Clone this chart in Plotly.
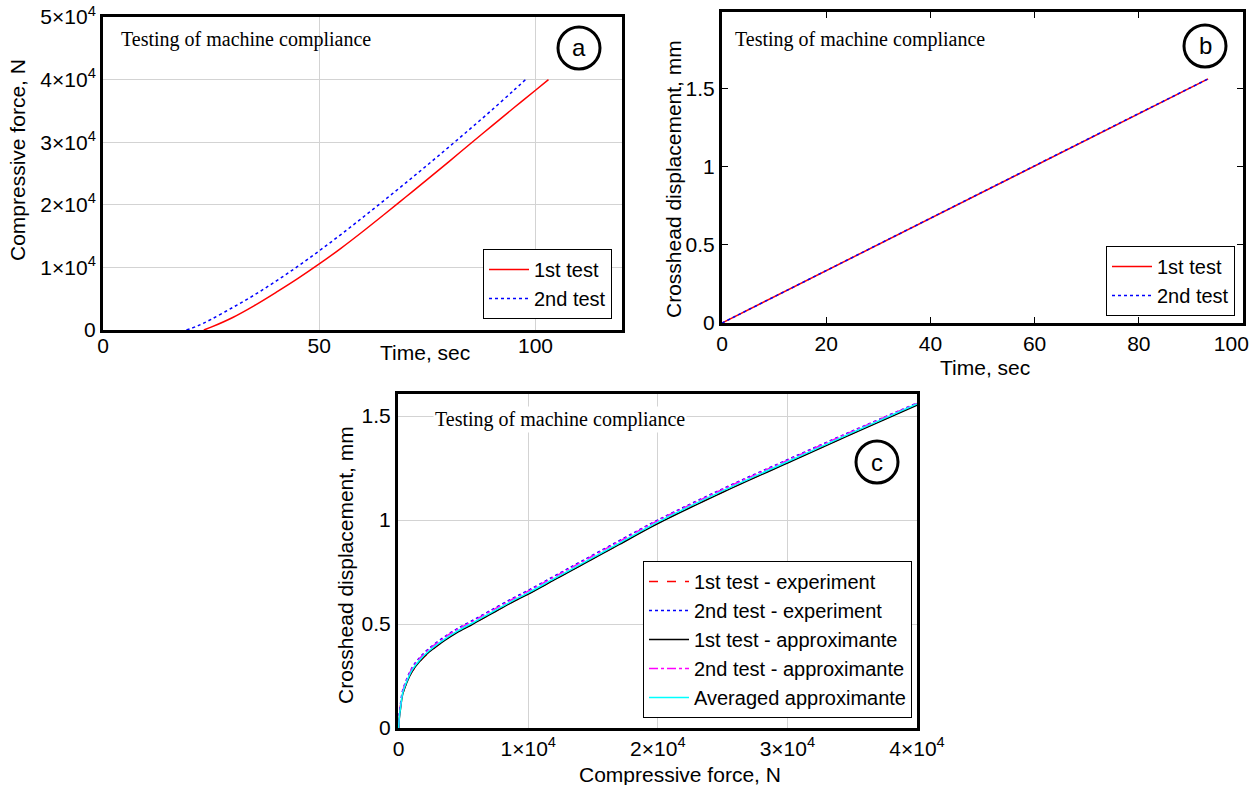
import plotly.graph_objects as go

W, H = 1251, 785
def px(x): return x / W
def py(y): return 1 - y / H

SANS = "Liberation Sans, Arial, sans-serif"
SERIF = "Liberation Serif, Times New Roman, serif"

# ---------------- data ----------------
# Panel (a): compressive force vs time
a_time_1 = [23.3, 25, 30, 35, 40, 45, 50, 55, 60, 65, 70, 75, 80, 85, 90, 95, 100, 103]
a_force_1 = [0, 450, 2000, 3900, 6000, 8200, 10550, 13050, 15700, 18450, 21250, 24050,
             26900, 29800, 32650, 35500, 38300, 40000]
a_time_2 = [19.3, 22, 25, 30, 35, 40, 45, 50, 55, 60, 65, 70, 75, 80, 85, 90, 95, 97.7]
a_force_2 = [0, 700, 1700, 3600, 5600, 7800, 10150, 12650, 15250, 17950, 20700, 23500,
             26350, 29250, 32200, 35200, 38300, 40000]

# Panel (b): crosshead displacement vs time
b_time = [0, 20, 40, 60, 80, 93.3]
b_disp_1 = [0, 0.335, 0.67, 1.005, 1.34, 1.562]
b_disp_2 = [0, 0.336, 0.671, 1.006, 1.341, 1.562]

# Panel (c): crosshead displacement vs compressive force
c_force = [0, 50, 150, 300, 600, 1050, 1600, 2330, 3500, 4500, 5700, 7000, 8750, 10000,
           12000, 14000, 17000, 20000, 25000, 30000, 35000, 40000]
c_exp_1 = [0, 0.06, 0.11, 0.16, 0.215, 0.272, 0.318, 0.362, 0.42, 0.46, 0.50, 0.545, 0.605,
           0.645, 0.713, 0.781, 0.883, 0.985, 1.135, 1.276, 1.416, 1.555]
c_exp_2 = [0, 0.07, 0.12, 0.178, 0.232, 0.292, 0.337, 0.382, 0.437, 0.477, 0.517, 0.562,
           0.622, 0.662, 0.73, 0.798, 0.9, 1.0, 1.15, 1.29, 1.428, 1.562]
c_apx_1 = [0, 0.045, 0.095, 0.16, 0.214, 0.274, 0.319, 0.364, 0.419, 0.459, 0.499, 0.544,
           0.604, 0.644, 0.712, 0.78, 0.882, 0.983, 1.133, 1.274, 1.414, 1.552]
c_apx_2 = [0, 0.058, 0.108, 0.173, 0.228, 0.288, 0.333, 0.378, 0.433, 0.473, 0.513, 0.558,
           0.618, 0.658, 0.726, 0.794, 0.896, 0.997, 1.147, 1.287, 1.426, 1.561]
c_avg = [0, 0.05, 0.10, 0.165, 0.22, 0.28, 0.325, 0.37, 0.425, 0.465, 0.505, 0.55, 0.61,
         0.65, 0.718, 0.786, 0.888, 0.99, 1.14, 1.28, 1.42, 1.558]

a_xticks = [0, 50, 100]
a_xtext = ["0", "50", "100"]
a_yticks = [0, 10000, 20000, 30000, 40000, 50000]
a_ytext = ["0", "1×10<sup>4</sup>", "2×10<sup>4</sup>", "3×10<sup>4</sup>",
           "4×10<sup>4</sup>", "5×10<sup>4</sup>"]
b_xticks = [0, 20, 40, 60, 80, 100]
b_xtext = ["0", "20", "40", "60", "80", "100\u00a0\u00a0\u00a0\u00a0"]
b_yticks = [0, 0.5, 1, 1.5]
b_ytext = ["0", "0.5", "1", "1.5"]
c_xticks = [0, 10000, 20000, 30000, 40000]
c_xtext = ["0", "1×10<sup>4</sup>", "2×10<sup>4</sup>", "3×10<sup>4</sup>", "4×10<sup>4</sup>"]
c_yticks = [0, 0.5, 1, 1.5]
c_ytext = ["0", "0.5", "1", "1.5"]

TITLE = "Testing of machine compliance"

fig = go.Figure()

# Panel a traces
fig.add_trace(go.Scatter(x=a_time_1, y=a_force_1, mode="lines", name="1st test",
                         line=dict(color="#ff0000", width=1.5, shape="spline"),
                         xaxis="x", yaxis="y", legend="legend"))
fig.add_trace(go.Scatter(x=a_time_2, y=a_force_2, mode="lines", name="2nd test",
                         line=dict(color="#0000ff", width=1.5, dash="dot", shape="spline"),
                         xaxis="x", yaxis="y", legend="legend"))
# Panel b traces
fig.add_trace(go.Scatter(x=b_time, y=b_disp_1, mode="lines", name="1st test",
                         line=dict(color="#ff0000", width=1.5),
                         xaxis="x2", yaxis="y2", legend="legend2"))
fig.add_trace(go.Scatter(x=b_time, y=b_disp_2, mode="lines", name="2nd test",
                         line=dict(color="#0000ff", width=1.5, dash="dot"),
                         xaxis="x2", yaxis="y2", legend="legend2"))
# Panel c traces
c_series = [
    ("1st test - experiment", c_exp_1, "#ff0000", "dash"),
    ("2nd test - experiment", c_exp_2, "#0000ff", "dot"),
    ("1st test - approximante", c_apx_1, "#000000", "solid"),
    ("2nd test - approximante", c_apx_2, "#ff00ff", "dashdot"),
    ("Averaged approximante", c_avg, "#00ffff", "solid"),
]
for name, ys, col, dash in c_series:
    fig.add_trace(go.Scatter(x=c_force, y=ys, mode="lines", name=name,
                             line=dict(color=col, width=1.5, dash=dash, shape="spline"),
                             xaxis="x3", yaxis="y3", legend="legend3"))

grid = "#d3d3d3"
tickfont = dict(family=SANS, size=21, color="black")
frame = dict(showline=True, linecolor="black", linewidth=3, mirror=True, zeroline=False,
             automargin=False)
legfont = dict(family=SANS, size=20, color="black")

fig.update_layout(
    template="none",
    width=W, height=H, margin=dict(l=0, r=0, t=0, b=0, pad=0), autosize=False,
    paper_bgcolor="white", plot_bgcolor="white", showlegend=True,
    xaxis=dict(domain=[px(103), px(622)], anchor="y", range=[0, 120],
               tickvals=a_xticks, ticktext=a_xtext, ticklabelstandoff=-5,
               showgrid=True, gridcolor=grid, gridwidth=1, ticks="", tickfont=tickfont, **frame),
    yaxis=dict(domain=[py(330), py(17)], anchor="x", range=[0, 50000],
               tickvals=a_yticks, ticktext=a_ytext,
               showgrid=True, gridcolor=grid, gridwidth=1, ticks="", tickfont=tickfont, **frame),
    xaxis2=dict(domain=[px(722), px(1243)], anchor="y2", range=[0, 100],
                tickvals=b_xticks, ticktext=b_xtext, ticklabeloverflow="allow",
                showgrid=False, ticks="inside", ticklen=6, tickcolor="black", tickwidth=1,
                tickfont=tickfont, showline=True, linecolor="black", linewidth=3,
                mirror="ticks", zeroline=False, automargin=False),
    yaxis2=dict(domain=[py(323), py(12)], anchor="x2", range=[0, 1.99],
                tickvals=b_yticks, ticktext=b_ytext,
                showgrid=False, ticks="inside", ticklen=6, tickcolor="black", tickwidth=1,
                tickfont=tickfont, showline=True, linecolor="black", linewidth=3,
                mirror="ticks", zeroline=False, automargin=False),
    xaxis3=dict(domain=[px(398), px(917)], anchor="y3", range=[-50, 40000],
                tickvals=c_xticks, ticktext=c_xtext, ticklabeloverflow="allow",
                showgrid=True, gridcolor=grid, gridwidth=1, ticks="", tickfont=tickfont, **frame),
    yaxis3=dict(domain=[py(728), py(394)], anchor="x3", range=[0, 1.606],
                tickvals=c_yticks, ticktext=c_ytext,
                showgrid=True, gridcolor=grid, gridwidth=1, ticks="", tickfont=tickfont, **frame),
    legend=dict(x=px(612), y=py(319), xanchor="right", yanchor="bottom",
                bgcolor="white", bordercolor="black", borderwidth=1,
                font=legfont, tracegroupgap=0, itemwidth=40),
    legend2=dict(x=px(1235), y=py(316), xanchor="right", yanchor="bottom",
                 bgcolor="white", bordercolor="black", borderwidth=1,
                 font=legfont, tracegroupgap=0, itemwidth=40),
    legend3=dict(x=px(912), y=py(718), xanchor="right", yanchor="bottom",
                 bgcolor="white", bordercolor="black", borderwidth=1,
                 font=legfont, tracegroupgap=0, itemwidth=40),
)

ann = []
# Panel titles (serif)
for tx, ty, bg in [(119, 40, "rgba(0,0,0,0)"), (733, 40, "rgba(0,0,0,0)"), (433, 419, "white")]:
    ann.append(dict(text=TITLE, x=px(tx), y=py(ty), xref="paper", yref="paper",
                    xanchor="left", yanchor="middle", showarrow=False, bgcolor=bg,
                    font=dict(family=SERIF, size=20, color="black")))
# Axis titles
axis_titles = [
    ("Compressive force, N", 18, 160, -90),
    ("Time, sec", 425, 352, 0),
    ("Crosshead displacement, mm", 674, 179, -90),
    ("Time, sec", 985, 367, 0),
    ("Crosshead displacement, mm", 345, 565, -90),
    ("Compressive force, N", 680, 774, 0),
]
for text, ax_, ay_, ang in axis_titles:
    ann.append(dict(text=text, x=px(ax_), y=py(ay_), xref="paper", yref="paper",
                    xanchor="center", yanchor="middle", textangle=ang, showarrow=False,
                    font=dict(family=SANS, size=21, color="black")))

# Circled panel letters
shapes = []
for letter, cx, cy in [("a", 579, 48), ("b", 1205, 46), ("c", 877, 462)]:
    shapes.append(dict(type="circle", xref="paper", yref="paper",
                       xsizemode="pixel", ysizemode="pixel",
                       xanchor=px(cx), yanchor=py(cy),
                       x0=-21, x1=21, y0=-21, y1=21,
                       line=dict(color="black", width=3), fillcolor="rgba(0,0,0,0)"))
    ann.append(dict(text=letter, x=px(cx), y=py(cy), xref="paper", yref="paper",
                    xanchor="center", yanchor="middle",
                    showarrow=False, font=dict(family=SANS, size=24, color="black")))

fig.update_layout(annotations=ann, shapes=shapes)

fig.write_html("out.html")
